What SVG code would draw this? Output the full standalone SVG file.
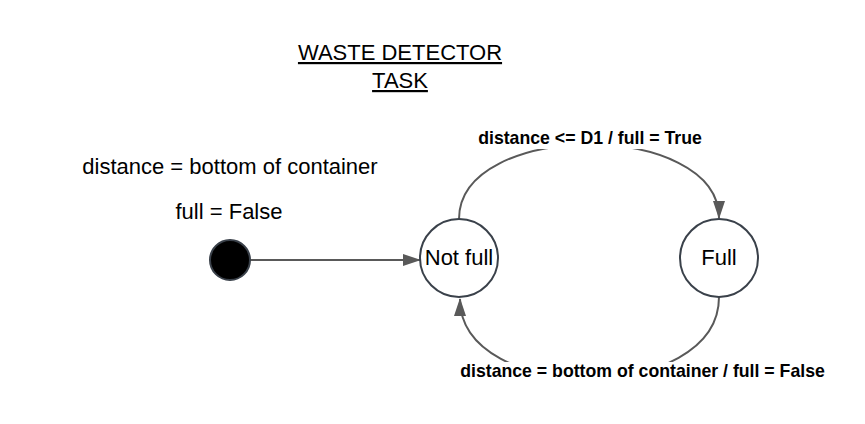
<svg xmlns="http://www.w3.org/2000/svg" width="865" height="424" viewBox="0 0 865 424">
<defs>
<style>
.t{font-family:"Liberation Sans",Arial,sans-serif;fill:#000;font-size:22px}
.n{fill:#fff;stroke:#3a414a;stroke-width:2}
.c{fill:none;stroke:#595959;stroke-width:2}
.lb{font-family:"Liberation Sans",Arial,sans-serif;font-weight:bold;font-size:17.7px;fill:#000}
</style>
<marker id="ah" markerWidth="18" markerHeight="12" refX="17" refY="6" orient="auto" markerUnits="userSpaceOnUse">
<path d="M0,0 L18,6 L0,12 Z" fill="#595959"/>
</marker>
</defs>
<rect width="865" height="424" fill="#fff"/>
<g id="title">
<text class="t" x="400" y="60" text-anchor="middle" text-decoration="underline">WASTE DETECTOR</text>
<text class="t" x="400" y="88" text-anchor="middle" text-decoration="underline">TASK</text>
</g>
<g id="notes">
<text class="t" x="230" y="174" text-anchor="middle">distance = bottom of container</text>
<text class="t" x="229" y="219" text-anchor="middle">full = False</text>
</g>
<g id="connectors">
<path class="c" d="M250,260 L420,260" marker-end="url(#ah)"/>
<path class="c" d="M459,219 C459,120 719,120 719,218" marker-end="url(#ah)"/>
<path class="c" d="M719,297 C719,405 460,405 460,299" marker-end="url(#ah)"/>
<rect x="474" y="128" width="232" height="21" fill="#fff"/>
<text class="lb" x="590" y="144" text-anchor="middle">distance &lt;= D1 / full = True</text>
<rect x="458" y="362" width="370" height="20" fill="#fff"/>
<text class="lb" x="642.5" y="377" text-anchor="middle">distance = bottom of container / full = False</text>
</g>
<g id="start">
<circle cx="230" cy="260" r="20" fill="#000" stroke="#3a414a" stroke-width="2"/>
</g>
<g id="notfull">
<circle class="n" cx="459" cy="258" r="39"/>
<text class="t" x="459" y="265" text-anchor="middle">Not full</text>
</g>
<g id="full">
<circle class="n" cx="719" cy="258" r="39"/>
<text class="t" x="719" y="265" text-anchor="middle">Full</text>
</g>
</svg>
